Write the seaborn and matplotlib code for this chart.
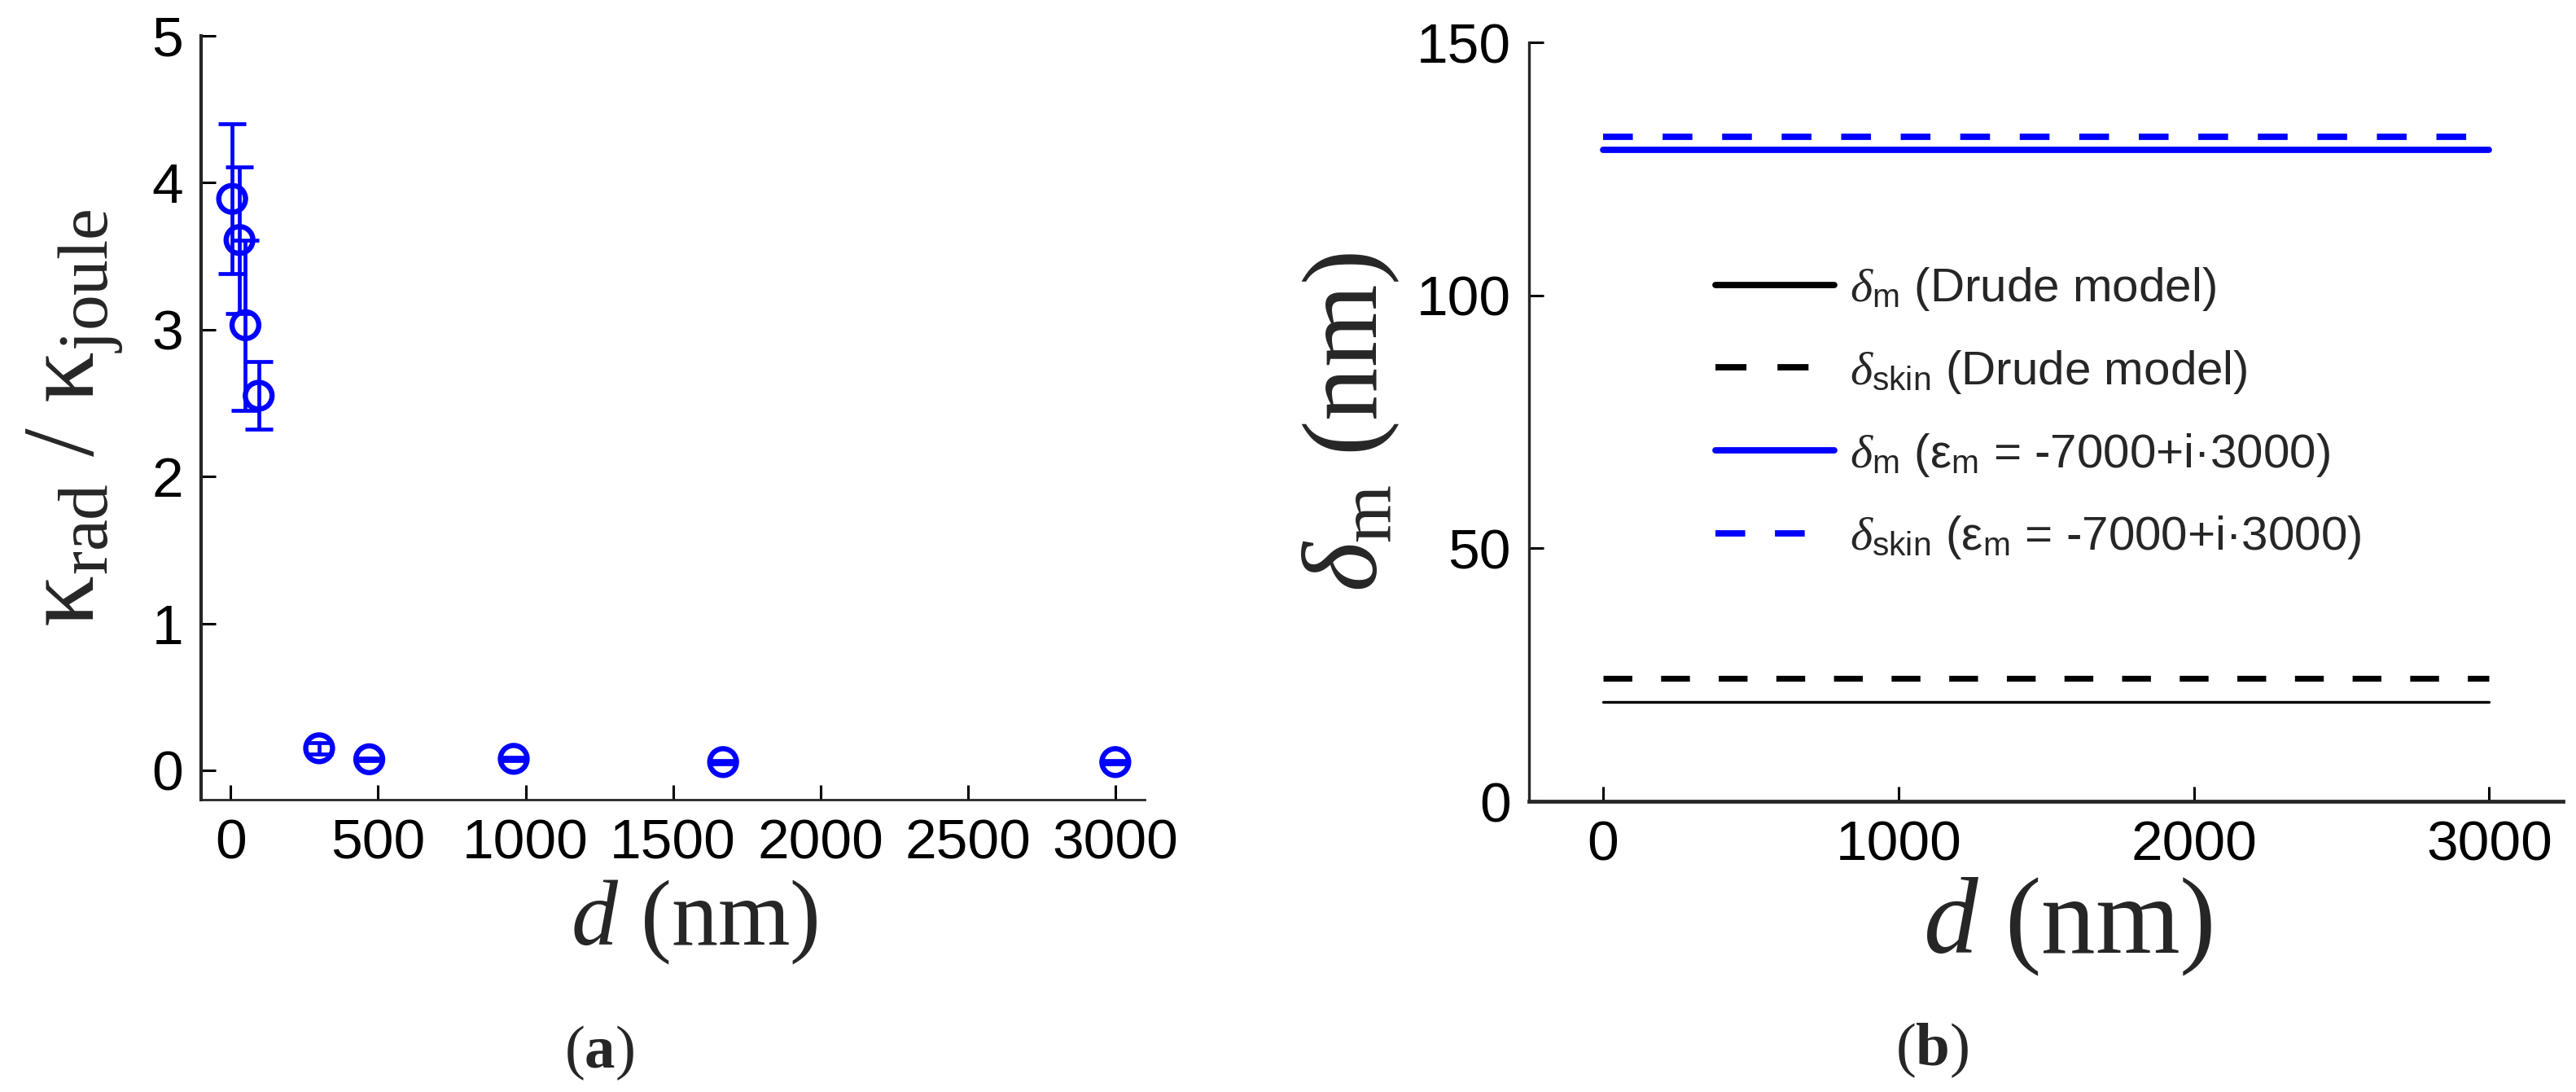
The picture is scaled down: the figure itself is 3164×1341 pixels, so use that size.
import matplotlib
matplotlib.use("Agg")
import matplotlib.pyplot as plt
import seaborn as sns

# (a) ratio of radiative to joule loss vs film thickness
d_points = [5, 30, 50, 95, 300, 470, 960, 1670, 3000]
kappa_ratio = [3.89, 3.61, 3.03, 2.55, 0.15, 0.075, 0.078, 0.056, 0.056]
kappa_err = [0.51, 0.50, 0.58, 0.23, 0.04, 0.01, 0.01, 0.01, 0.01]

# (b) penetration / skin depths
d_line = [0, 3000]
delta_m_drude = [19.6, 19.6]
delta_skin_drude = [24.3, 24.3]
delta_m_eps = [128.7, 128.7]
delta_skin_eps = [131.3, 131.3]

legend_labels = [
    r"$\delta_{\mathsf{m}}$ (Drude model)",
    r"$\delta_{\mathsf{skin}}$ (Drude model)",
    r"$\delta_{\mathsf{m}}$ (ε$_{\mathsf{m}}$ = -7000+i·3000)",
    r"$\delta_{\mathsf{skin}}$ (ε$_{\mathsf{m}}$ = -7000+i·3000)",
]

sns.set_style("ticks")
plt.rcParams["font.family"] = ["Liberation Sans", "DejaVu Sans"]
plt.rcParams["mathtext.fontset"] = "custom"
plt.rcParams["mathtext.rm"] = "Liberation Serif"
plt.rcParams["mathtext.it"] = "Liberation Serif:italic"
plt.rcParams["mathtext.bf"] = "Liberation Serif:bold"
plt.rcParams["mathtext.sf"] = "Liberation Sans"

BLUE = "#0000ff"
serif = ["Liberation Serif", "DejaVu Serif"]

fig = plt.figure(figsize=(15.82, 6.705), dpi=200)
ax1 = fig.add_axes([0.0781, 0.2677, 0.3663, 0.6995])
ax2 = fig.add_axes([0.5936, 0.2662, 0.4014, 0.6950])

# ---- panel (a)
ax1.errorbar(d_points, kappa_ratio, yerr=kappa_err, fmt="none", ecolor=BLUE,
             elinewidth=1.7, capsize=6.2, capthick=1.7, zorder=2)
sns.scatterplot(x=d_points, y=kappa_ratio, ax=ax1, marker="o", s=140,
                facecolors="none", edgecolor=BLUE, linewidth=2.3, legend=False,
                zorder=3)
ax1.set_xlim(-100, 3100)
ax1.set_ylim(-0.2, 5)
ax1.set_xticks(range(0, 3001, 500))
ax1.set_yticks(range(0, 6))
ax1.set_xlabel(r"$d$ (nm)", fontsize=41, family=serif, va="center")
ax1.xaxis.set_label_coords(0.523, -0.160)
ax1.set_ylabel(r"$\mathrm{κ}_{\mathrm{rad}}$ / $\mathrm{κ}_{\mathrm{joule}}$",
               fontsize=45, family=serif, va="center")
ax1.yaxis.set_label_coords(-0.134, 0.5)
ax1.spines["left"].set_linewidth(1.5)
ax1.spines["bottom"].set_linewidth(1.0)

# ---- panel (b)
sns.lineplot(x=d_line, y=delta_m_drude, ax=ax2, color="black", linewidth=1.2)
sns.lineplot(x=d_line, y=delta_skin_drude, ax=ax2, color="black", linewidth=2.6,
             linestyle=(0, (4.9, 4.9)))
sns.lineplot(x=d_line, y=delta_m_eps, ax=ax2, color=BLUE, linewidth=2.8)
sns.lineplot(x=d_line, y=delta_skin_eps, ax=ax2, color=BLUE, linewidth=2.8,
             linestyle=(0, (4.7, 4.7)))
ax2.set_xlim(-250, 3250)
ax2.set_ylim(0, 150)
ax2.set_xticks([0, 1000, 2000, 3000])
ax2.set_yticks([0, 50, 100, 150])
ax2.set_xlabel(r"$d$ (nm)", fontsize=48, family=serif, va="center")
ax2.xaxis.set_label_coords(0.521, -0.165)
ax2.set_ylabel(r"$\delta_{\mathrm{m}}$ (nm)", fontsize=47, family=serif, va="center")
ax2.yaxis.set_label_coords(-0.172, 0.5)
ax2.spines["left"].set_linewidth(1.2)
ax2.spines["bottom"].set_linewidth(1.7)

leg = ax2.legend(ax2.get_lines()[:4], legend_labels, loc="upper left",
                 bbox_to_anchor=(0.180, 0.706), frameon=False, fontsize=21,
                 handlelength=2.5, handletextpad=0.34, labelspacing=0.75,
                 borderpad=0, borderaxespad=0)
for ln in leg.get_lines():
    ln.set_linewidth(2.8)

for ax in (ax1, ax2):
    sns.despine(ax=ax)
    ax.tick_params(direction="in", length=6.5, width=1.1, labelsize=25, pad=8,
                   colors="black")

fig.text(736 / 3164, 1 - 1293 / 1341, r"($\mathbf{a}$)", fontsize=27,
         family=serif, ha="center", va="center")
fig.text(2373 / 3164, 1 - 1290 / 1341, r"($\mathbf{b}$)", fontsize=27,
         family=serif, ha="center", va="center")

fig.savefig("out.png", dpi=200)
